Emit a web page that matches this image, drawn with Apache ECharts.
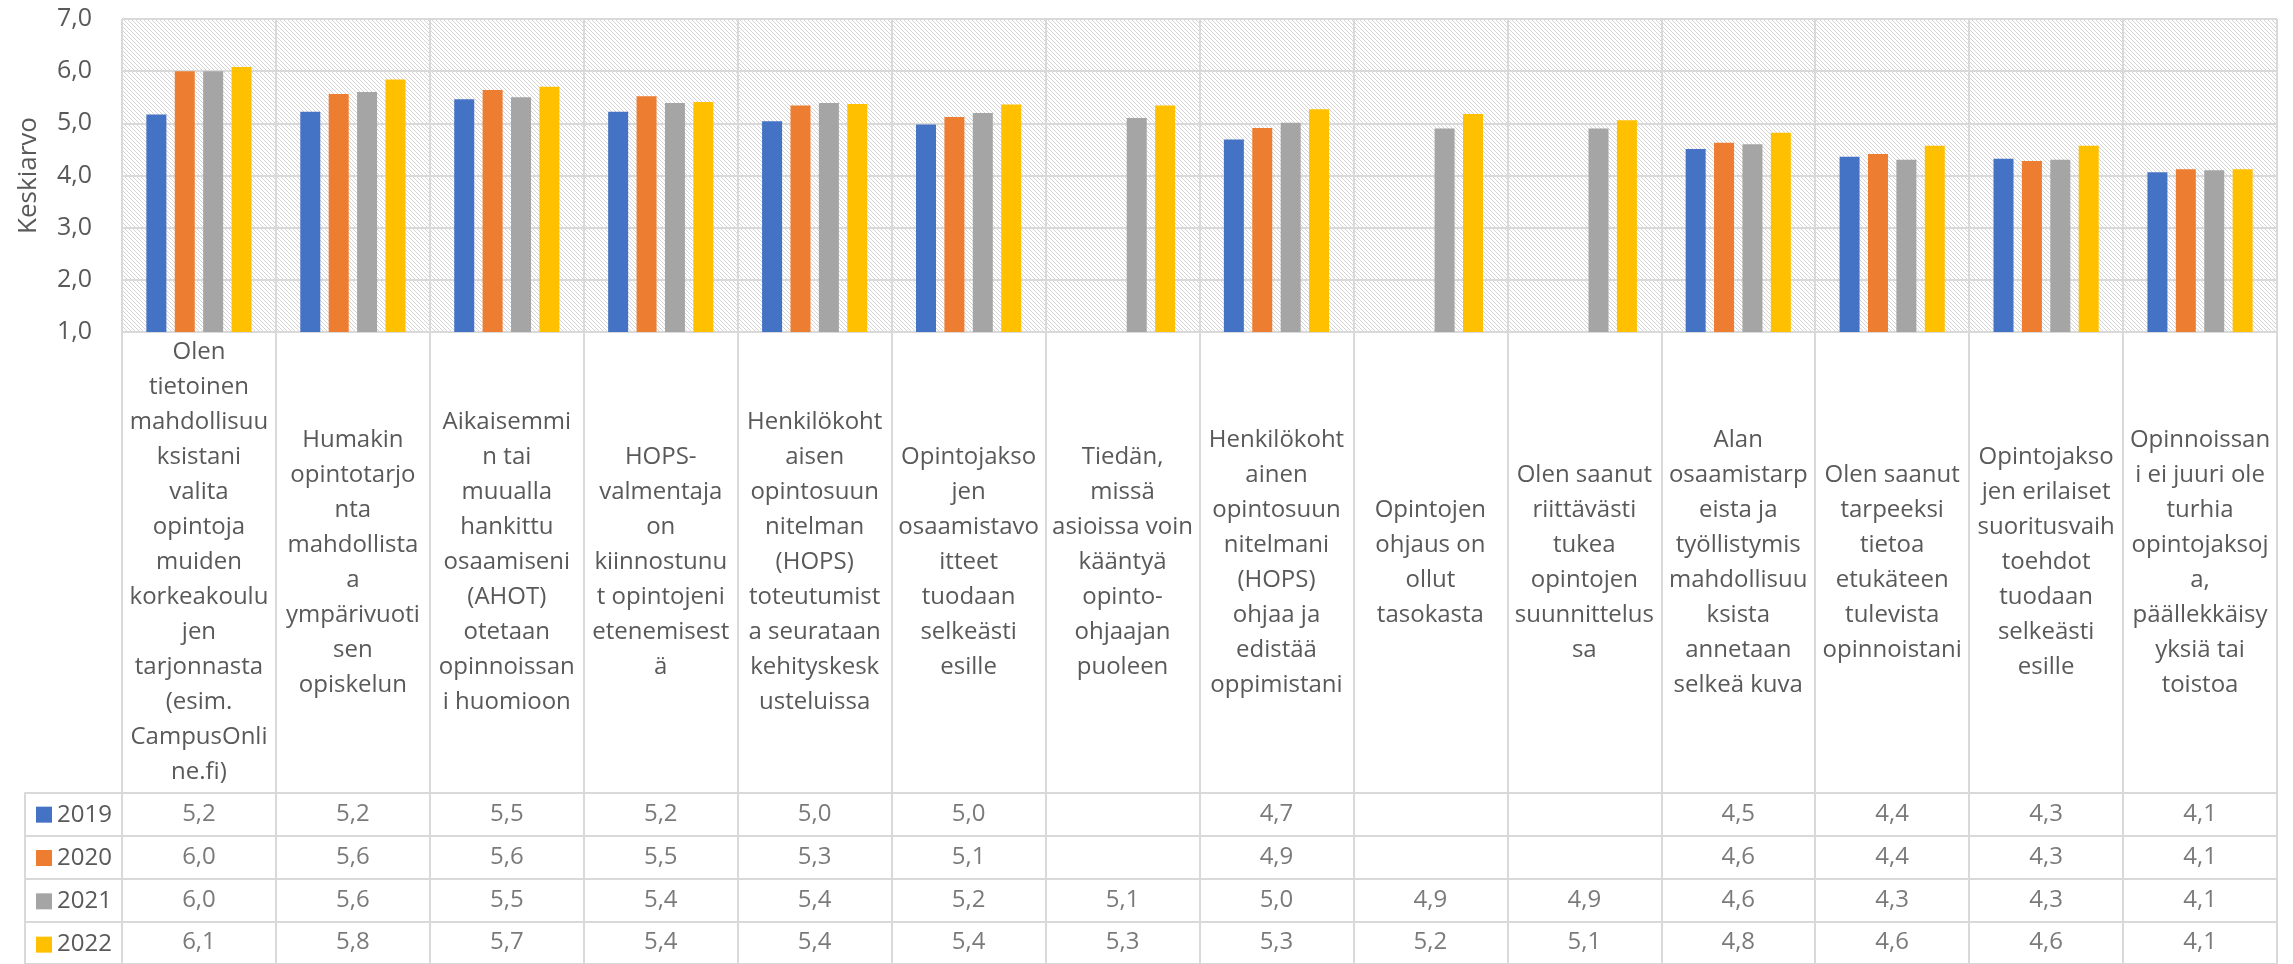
<!DOCTYPE html>
<html><head><meta charset="utf-8">
<script src="https://cdn.jsdelivr.net/npm/echarts@6/dist/echarts.min.js"></script>
<style>html,body{margin:0;padding:0;background:#fff}#c{width:2293px;height:964px}</style>
</head><body><div id="c"></div>
<script>
// ---------- DATA ----------
const categories = [
  'Olen\ntietoinen\nmahdollisuu\nksistani\nvalita\nopintoja\nmuiden\nkorkeakoulu\njen\ntarjonnasta\n(esim.\nCampusOnli\nne.fi)',
  'Humakin\nopintotarjo\nnta\nmahdollista\na\nympärivuoti\nsen\nopiskelun',
  'Aikaisemmi\nn tai\nmuualla\nhankittu\nosaamiseni\n(AHOT)\notetaan\nopinnoissan\ni huomioon',
  'HOPS-\nvalmentaja\non\nkiinnostunu\nt opintojeni\netenemisest\nä',
  'Henkilökoht\naisen\nopintosuun\nnitelman\n(HOPS)\ntoteutumist\na seurataan\nkehityskesk\nusteluissa',
  'Opintojakso\njen\nosaamistavo\nitteet\ntuodaan\nselkeästi\nesille',
  'Tiedän,\nmissä\nasioissa voin\nkääntyä\nopinto-\nohjaajan\npuoleen',
  'Henkilökoht\nainen\nopintosuun\nnitelmani\n(HOPS)\nohjaa ja\nedistää\noppimistani',
  'Opintojen\nohjaus on\nollut\ntasokasta',
  'Olen saanut\nriittävästi\ntukea\nopintojen\nsuunnittelus\nsa',
  'Alan\nosaamistarp\neista ja\ntyöllistymis\nmahdollisuu\nksista\nannetaan\nselkeä kuva',
  'Olen saanut\ntarpeeksi\ntietoa\netukäteen\ntulevista\nopinnoistani',
  'Opintojakso\njen erilaiset\nsuoritusvaih\ntoehdot\ntuodaan\nselkeästi\nesille',
  'Opinnoissan\ni ei juuri ole\nturhia\nopintojaksoj\na,\npäällekkäisy\nyksiä tai\ntoistoa'
];
const years = ['2019', '2020', '2021', '2022'];
const values2019 = [5.17, 5.22, 5.46, 5.22, 5.04, 4.98, null, 4.69, null, null, 4.51, 4.36, 4.32, 4.06];
const values2020 = [6.00, 5.56, 5.64, 5.52, 5.34, 5.12, null, 4.91, null, null, 4.63, 4.41, 4.28, 4.12];
const values2021 = [6.00, 5.60, 5.50, 5.39, 5.39, 5.20, 5.10, 5.01, 4.90, 4.90, 4.60, 4.30, 4.30, 4.10];
const values2022 = [6.08, 5.84, 5.70, 5.41, 5.37, 5.36, 5.34, 5.27, 5.18, 5.06, 4.82, 4.57, 4.57, 4.12];
const yMin = 1, yMax = 7, yStep = 1;
const yAxisTitle = 'Keskiarvo';

// ---------- STYLE ----------
const colors = ['#4472C4', '#ED7D31', '#A5A5A5', '#FFC000'];
const gridColor = '#d9d9d9';
const textColor = '#595959';
const FONT = '"Open Sans", sans-serif';
const fmt = v => v.toFixed(1).replace('.', ',');

const seriesValues = [values2019, values2020, values2021, values2022];

// hatch pattern for plot area
const pc = document.createElement('canvas');
pc.width = 8; pc.height = 8;
const pctx = pc.getContext('2d');
pctx.fillStyle = '#ffffff'; pctx.fillRect(0, 0, 8, 8);
pctx.fillStyle = '#d4d4d4';
for (let i = 0; i < 8; i++) { pctx.fillRect(i, i, 1, 1); pctx.fillRect((i + 4) % 8, i, 1, 1); }

const plotLeft = 122, plotTop = 19, plotW = 2155, plotH = 313;
const tableTop = 793, rowH = 43.33;
const labelAreaH = tableTop - (plotTop + plotH);

const tableCells = [];
seriesValues.forEach((arr, j) => arr.forEach((v, i) => { if (v != null) tableCells.push([i, j, fmt(v)]); }));

const chart = echarts.init(document.getElementById('c'));
chart.setOption({
  animation: false,
  backgroundColor: '#ffffff',
  textStyle: { fontFamily: FONT },
  legend: {
    data: years,
    orient: 'vertical',
    left: 36, top: tableTop, height: 220,
    padding: 0, itemGap: 0,
    itemWidth: 16, itemHeight: 16, icon: 'rect',
    selectedMode: false,
    textStyle: { fontSize: 24, color: textColor, fontFamily: FONT, lineHeight: rowH }
  },
  grid: [
    { left: plotLeft, top: plotTop, width: plotW, height: plotH, show: true,
      backgroundColor: { image: pc, repeat: 'repeat' }, borderWidth: 0 },
    { left: plotLeft, top: tableTop, width: plotW, height: rowH * 4, show: false }
  ],
  xAxis: [
    { type: 'category', gridIndex: 0, data: categories,
      axisLine: { show: true, lineStyle: { color: gridColor, width: 2 } },
      axisTick: { show: true, interval: 0, length: labelAreaH, lineStyle: { color: gridColor, width: 2 } },
      splitLine: { show: true, interval: 0, lineStyle: { color: gridColor, width: 2 } },
      axisLabel: { interval: 0, margin: labelAreaH / 2, verticalAlign: 'middle', align: 'center',
        fontSize: 24, lineHeight: 35, color: textColor, fontFamily: FONT } },
    { type: 'category', gridIndex: 1, data: categories,
      axisLine: { show: false }, axisTick: { show: false }, axisLabel: { show: false },
      splitLine: { show: true, interval: 0, lineStyle: { color: gridColor, width: 2 } } }
  ],
  yAxis: [
    { type: 'value', gridIndex: 0, min: yMin, max: yMax, interval: yStep,
      name: yAxisTitle, nameLocation: 'middle', nameGap: 80,
      nameTextStyle: { fontSize: 26, color: textColor, fontFamily: FONT },
      axisLine: { show: false }, axisTick: { show: false },
      splitLine: { show: true, lineStyle: { color: gridColor, width: 2 } },
      axisLabel: { formatter: v => fmt(v), fontSize: 25, color: textColor, margin: 30, fontFamily: FONT } },
    { type: 'category', gridIndex: 1, data: years, inverse: true, offset: plotLeft - 25,
      axisLine: { show: true, lineStyle: { color: gridColor, width: 2 } },
      axisTick: { show: true, inside: true, length: plotLeft - 25, lineStyle: { color: gridColor, width: 2 } },
      axisLabel: { show: false },
      splitLine: { show: true, lineStyle: { color: gridColor, width: 2 } } }
  ],
  series: [
    ...years.map((y, k) => ({
      name: y, type: 'bar', xAxisIndex: 0, yAxisIndex: 0,
      data: seriesValues[k], barWidth: 20, barGap: '42%',
      itemStyle: { color: colors[k] }
    })),
    { name: 'table', type: 'scatter', xAxisIndex: 1, yAxisIndex: 1,
      data: tableCells, symbolSize: 1, itemStyle: { color: 'rgba(0,0,0,0)' },
      label: { show: true, position: 'inside', formatter: p => p.value[2],
        fontSize: 24, color: textColor, fontFamily: FONT } }
  ]
});
</script></body></html>
